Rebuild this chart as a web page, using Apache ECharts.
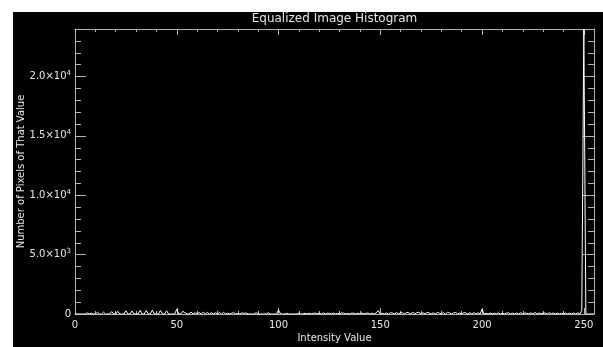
<!DOCTYPE html>
<html style="height: 100%">
<head>
    <meta charset="utf-8">
</head>
<body style="height: 100%; margin: 0; background: #fff">
<div id="container" style="width: 603px; height: 347px"></div>

<script type="text/javascript" src="https://cdn.jsdelivr.net/npm/echarts@6/dist/echarts.min.js"></script>

<script type="text/javascript">
    // pixel counts for each intensity 0..255
    var counts = [
        0, 0, 0, 0, 0, 0, 90, 0, 70, 0, 0, 130, 0, 0, 160, 0,
        0, 0, 200, 0, 0, 230, 0, 0, 0, 270, 0, 0, 250, 0, 0, 0,
        310, 0, 0, 290, 0, 0, 330, 0, 0, 0, 300, 0, 0, 270, 0, 0,
        0, 0, 400, 0, 0, 230, 110, 0, 0, 170, 0, 110, 0, 130, 0, 150,
        0, 130, 0, 110, 0, 100, 0, 120, 0, 140, 0, 70, 0, 60, 110, 0,
        50, 0, 90, 60, 80, 0, 0, 0, 0, 120, 0, 0, 0, 0, 0, 100,
        0, 0, 0, 0, 330, 0, 0, 0, 60, 0, 0, 0, 0, 0, 80, 0,
        0, 60, 0, 70, 0, 50, 80, 0, 60, 0, 90, 0, 70, 50, 0, 80,
        0, 60, 0, 90, 70, 0, 50, 0, 80, 60, 0, 70, 0, 90, 0, 60,
        80, 0, 70, 0, 100, 280, 0, 60, 0, 90, 0, 110, 80, 0, 120, 0,
        130, 90, 0, 140, 100, 0, 150, 0, 120, 140, 0, 110, 0, 130, 90, 0,
        100, 0, 120, 80, 0, 110, 0, 140, 90, 0, 100, 130, 0, 80, 0, 120,
        90, 0, 110, 0, 130, 0, 100, 0, 400, 0, 60, 0, 80, 0, 70, 0,
        90, 0, 60, 0, 80, 100, 0, 70, 0, 90, 0, 110, 0, 80, 60, 0,
        100, 0, 130, 0, 90, 0, 70, 80, 0, 120, 0, 90, 0, 70, 0, 60,
        0, 80, 0, 70, 0, 90, 0, 100, 0, 280, 24000, 0, 0, 0, 0, 0
    ];

    var xTicks = [0, 50, 100, 150, 200, 250];
    var yTicks = [0, 5000, 10000, 15000, 20000];
    var yTickMant = ['0', '5.0', '1.0', '1.5', '2.0'];
    var yTickExp = ['', '3', '4', '4', '4'];

    var fg = '#e8e8e8';
    var axisCol = '#b4b4b4';
    var font = 'DejaVu Sans';

    var dom = document.getElementById('container');
    var myChart = echarts.init(dom, null, {renderer: 'canvas'});

    var seriesData = counts.map(function (v, i) { return [i, v]; });

    function axisBase(extra) {
        var a = {
            type: 'value',
            axisLine: {show: true, onZero: false, lineStyle: {color: axisCol, width: 1}},
            splitLine: {show: false},
            axisTick: {show: true, inside: true, lineStyle: {color: axisCol}},
            minorTick: {show: true, splitNumber: 5, lineStyle: {color: axisCol}},
            axisLabel: {show: false}
        };
        for (var k in extra) a[k] = extra[k];
        return a;
    }

    var option = {
        animation: false,
        backgroundColor: '#fff',
        graphic: [{
            type: 'rect',
            z: -10,
            shape: {x: 13, y: 12, width: 590, height: 335},
            style: {fill: '#000'}
        }],
        title: {
            text: 'Equalized Image Histogram',
            left: 334.5,
            top: 13,
            padding: 0,
            textAlign: 'center',
            textStyle: {color: fg, fontFamily: font, fontSize: 12, fontWeight: 'normal'}
        },
        grid: {
            left: 75, top: 29, width: 519, height: 285,
            containLabel: false, outerBoundsMode: 'none'
        },
        xAxis: [
            axisBase({
                position: 'bottom', min: 0, max: 255, interval: 50,
                name: 'Intensity Value', nameLocation: 'middle', nameGap: 19,
                nameMoveOverlap: false,
                nameTextStyle: {color: fg, fontFamily: font, fontSize: 10},
                axisTick: {show: true, inside: true, length: 6, lineStyle: {color: axisCol}},
                minorTick: {show: true, splitNumber: 5, length: 3, lineStyle: {color: axisCol}},
                axisLabel: {
                    show: true, margin: 6, color: fg, fontFamily: font, fontSize: 10,
                    showMaxLabel: true,
                    formatter: function (v) { return xTicks.indexOf(v) >= 0 ? String(v) : ''; }
                }
            }),
            axisBase({
                position: 'top', min: 0, max: 255, interval: 50,
                axisTick: {show: true, inside: true, length: 6, lineStyle: {color: axisCol}},
                minorTick: {show: true, splitNumber: 5, length: 3, lineStyle: {color: axisCol}}
            })
        ],
        yAxis: [
            axisBase({
                position: 'left', min: 0, max: 24000, interval: 5000,
                name: 'Number of Pixels of That Value', nameLocation: 'middle', nameGap: 49,
                nameMoveOverlap: false,
                nameTextStyle: {color: fg, fontFamily: font, fontSize: 10},
                axisTick: {show: true, inside: true, length: 11, lineStyle: {color: axisCol}},
                minorTick: {show: true, splitNumber: 5, length: 6, lineStyle: {color: axisCol}},
                axisLabel: {
                    show: true, margin: 4, color: fg, fontFamily: font, fontSize: 10,
                    formatter: function (v) {
                        var i = yTicks.indexOf(v);
                        if (i < 0) return '';
                        if (!yTickExp[i]) return '{m|' + yTickMant[i] + '}';
                        return '{m|' + yTickMant[i] + '×10}{e|' + yTickExp[i] + '}';
                    },
                    rich: {
                        m: {color: fg, fontFamily: font, fontSize: 10},
                        e: {color: fg, fontFamily: font, fontSize: 7, padding: [0, 0, 7, 0]}
                    }
                }
            }),
            axisBase({
                position: 'right', min: 0, max: 24000, interval: 5000,
                axisTick: {show: true, inside: true, length: 11, lineStyle: {color: axisCol}},
                minorTick: {show: true, splitNumber: 5, length: 6, lineStyle: {color: axisCol}}
            })
        ],
        series: [{
            type: 'line',
            xAxisIndex: 0,
            yAxisIndex: 0,
            data: seriesData,
            showSymbol: false,
            symbol: 'none',
            clip: true,
            lineStyle: {color: '#ffffff', width: 1}
        }]
    };

    myChart.setOption(option);
</script>
</body>
</html>
